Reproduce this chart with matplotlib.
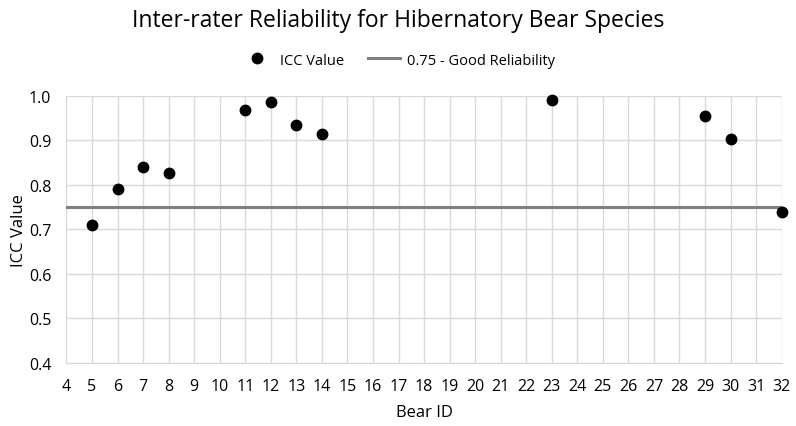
import matplotlib
matplotlib.use('Agg')
import matplotlib.pyplot as plt
from matplotlib.lines import Line2D

# Data
bear_id = [5, 6, 7, 8, 11, 12, 13, 14, 23, 29, 30, 32]
icc = [0.710, 0.790, 0.839, 0.826, 0.968, 0.987, 0.935, 0.914, 0.990, 0.954, 0.903, 0.739]
good_threshold = 0.75
x_ticks = list(range(4, 33))
y_ticks = [0.4, 0.5, 0.6, 0.7, 0.8, 0.9, 1.0]

plt.rcParams['font.family'] = ['Open Sans', 'DejaVu Sans']

fig = plt.figure(figsize=(7.96, 4.27), dpi=100)
ax = fig.add_axes([0.0835, 0.1475, 0.8985, 0.626])

grid_col = '#d9d9d9'
ax.set_xlim(4, 32)
ax.set_ylim(0.4, 1.0)
ax.set_xticks(x_ticks)
ax.set_yticks(y_ticks)
ax.set_yticklabels(['%.1f' % v for v in y_ticks])
ax.grid(True, color=grid_col, linewidth=1.0)
ax.set_axisbelow(True)
for s in ax.spines.values():
    s.set_visible(False)
ax.spines['bottom'].set_visible(True)
ax.spines['bottom'].set_color(grid_col)
ax.tick_params(length=0, labelsize=11.5, colors='#000000')
ax.tick_params(axis='x', pad=11)
ax.tick_params(axis='y', pad=11)

ax.axhline(good_threshold, color='#7f7f7f', linewidth=2.2, zorder=2)
ax.plot(bear_id, icc, 'o', color='black', ms=7.5, zorder=3, clip_on=False)

ax.set_xlabel('Bear ID', fontsize=12, labelpad=7)
ax.set_ylabel('ICC Value', fontsize=12, labelpad=1)

fig.suptitle('Inter-rater Reliability for Hibernatory Bear Species', fontsize=16.5, y=0.978)

handles = [Line2D([], [], marker='o', linestyle='none', color='black', ms=7.5),
           Line2D([], [], color='#7f7f7f', linewidth=2.2)]
fig.legend(handles, ['ICC Value', '0.75 - Good Reliability'], loc='center',
           bbox_to_anchor=(0.5, 0.857), ncol=2, frameon=False, fontsize=10.5,
           handlelength=2.2, handletextpad=0.5, columnspacing=1.6)

fig.savefig('out.png', dpi=100)
